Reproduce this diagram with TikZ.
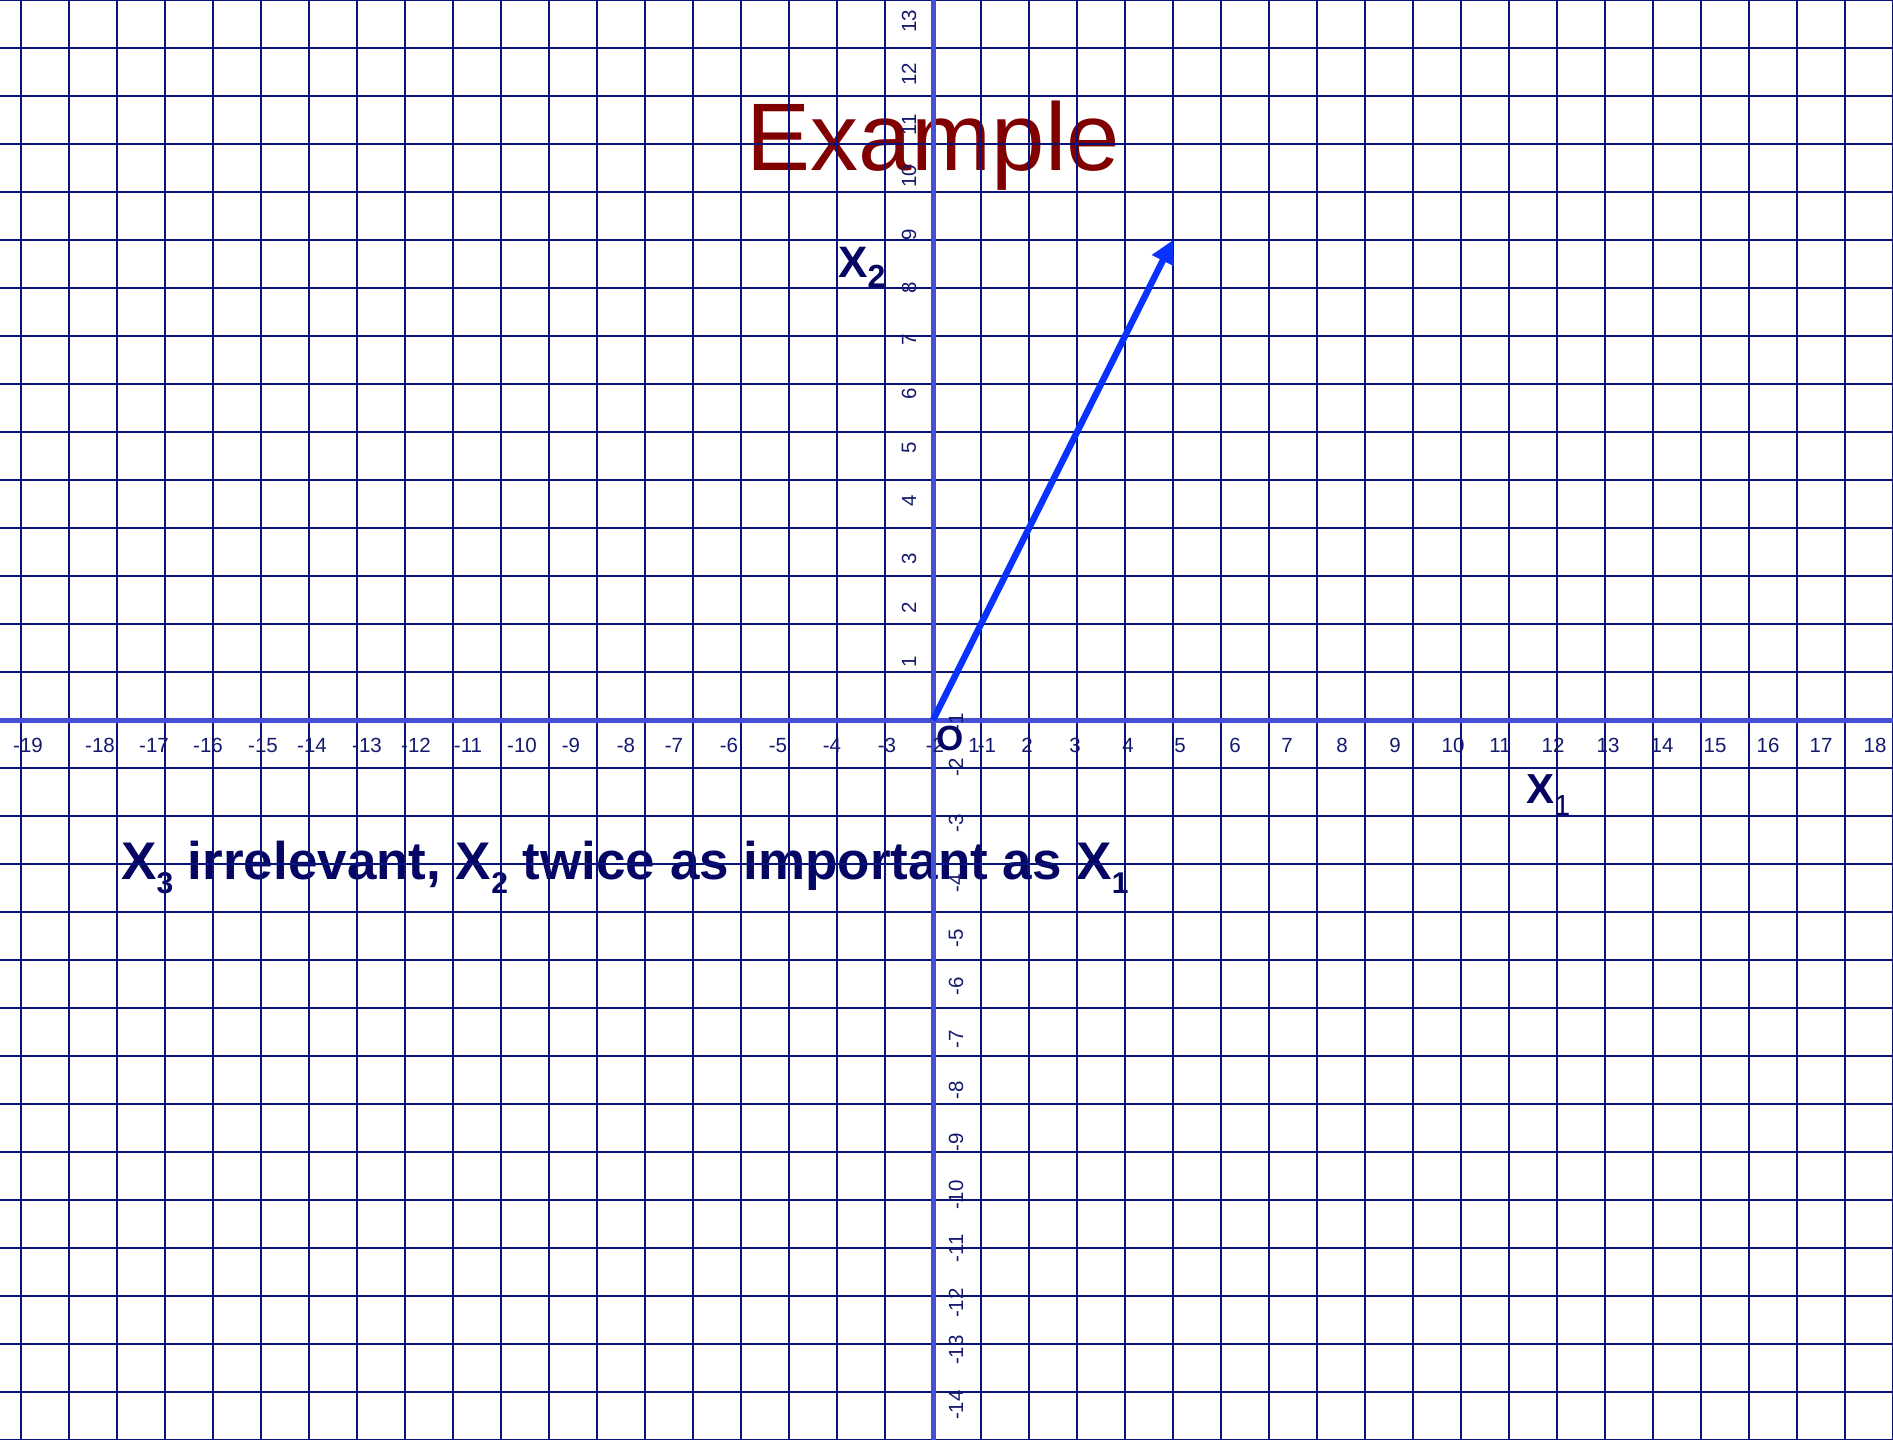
\documentclass[tikz,border=0pt]{standalone}
\usepackage{fontspec}
\setmainfont{Liberation Sans}
\usetikzlibrary{arrows.meta}
\definecolor{gridc}{RGB}{8,18,120}
\definecolor{axisc}{RGB}{70,80,215}
\definecolor{vecc}{RGB}{10,50,255}
\definecolor{mainc}{RGB}{5,5,100}
\definecolor{tickc}{RGB}{20,25,110}
\definecolor{titlec}{RGB}{128,0,0}
\newcommand\mysubA[1]{\raisebox{-14pt}{\fontsize{30}{31}\selectfont\bfseries #1}}
\newcommand\mysubB[1]{\raisebox{-10pt}{\fontsize{32}{34}\selectfont\bfseries #1}}
\begin{document}
\begin{tikzpicture}[x=1pt,y=-1pt,
  gridline/.style={draw=gridc,line width=1.5pt},
  axisline/.style={draw=axisc,line width=5pt},
  ticklbl/.style={text=tickc,font=\fontsize{20.5}{24}\selectfont,inner sep=0pt},
  vecline/.style={draw=vecc,line width=6.5pt,-{Triangle[length=23pt,width=23pt]}},
  axlbl/.style={text=mainc,inner sep=0pt,anchor=base west}]
\useasboundingbox (0,0) rectangle (1893,1440);
\fill[white] (0,0) rectangle (1893,1440);
% title and caption (under the grid)
\node[anchor=base,inner sep=0pt,text=titlec,font=\fontsize{96}{110}\selectfont] (title) at (933,170) {Example};
\node[axlbl,font=\bfseries\fontsize{53}{60}\selectfont] (caption) at (121,879)
  {X\mysubA{3} irrelevant, X\mysubA{2} twice as important as X\mysubA{1}};
% grid
\foreach \k in {0,...,39} \draw[gridline] (21+48*\k,0) -- (21+48*\k,1440);
\foreach \k in {0,...,30} \draw[gridline] (0,48*\k) -- (1893,48*\k);
% axes
\draw[axisline] (0,720) -- (1893,720);
\draw[axisline] (933,0) -- (933,1440);
% x tick labels
\foreach \v/\px [count=\i] in {-19/28,-18/100,-17/154,-16/208,-15/263,-14/312,-13/367,-12/416,-11/468,-10/522,-9/571,-8/626,-7/674,-6/729,-5/778,-4/832,-3/887,-2/935,-1/987,1/974,2/1027,3/1075,4/1128,5/1180,6/1235,7/1287,8/1342,9/1395,10/1453,11/1500,12/1553,13/1608,14/1662,15/1715,16/1768,17/1821,18/1875}
  \node[ticklbl,anchor=base] (xt\i) at (\px,752) {\v};
% y tick labels
\foreach \v/\py [count=\i] in {1/662,2/608,3/559,4/501,5/448,6/394,7/340,8/288,9/235,10/176,11/125,12/74,13/21}
  \node[ticklbl,rotate=90] (ytp\i) at (909,\py) {\v};
\foreach \v/\py [count=\i] in {-1/722,-2/767,-3/823,-4/883,-5/938,-6/986,-7/1039,-8/1090,-9/1142,-10/1195,-11/1248,-12/1303,-13/1350,-14/1405}
  \node[ticklbl,rotate=90] (ytn\i) at (956,\py) {\v};
% vector
\coordinate (origin) at (933,720);
\coordinate (tip) at (1173,240);
\draw[vecline] (origin) -- (tip);
% axis labels
\node[axlbl,font=\bfseries\fontsize{44}{50}\selectfont] (x2lbl) at (838,277) {X\mysubB{2}};
\node[axlbl,font=\bfseries\fontsize{42}{50}\selectfont] (x1lbl) at (1526,803) {X\raisebox{-12pt}{\fontsize{29}{30}\selectfont\mdseries 1}};
\node[axlbl,font=\bfseries\fontsize{35}{40}\selectfont] (olbl) at (936,750) {O};
\end{tikzpicture}
\end{document}
